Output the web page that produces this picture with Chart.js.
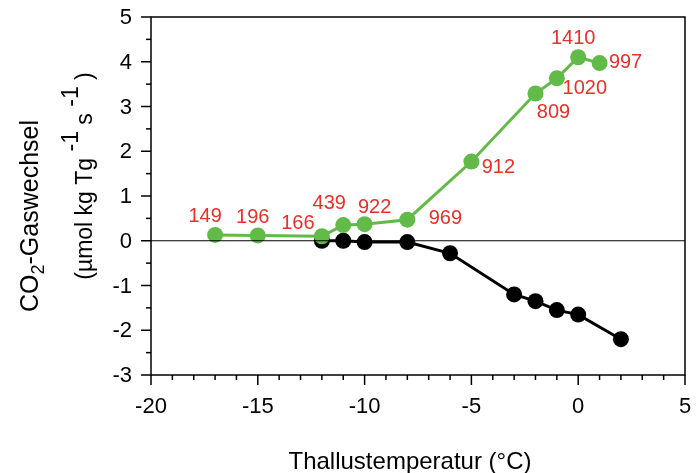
<!DOCTYPE html>
<html>
<head>
<meta charset="utf-8">
<style>
  html, body { margin: 0; padding: 0; background: #fff; }
  #wrap { width: 700px; height: 473px; }
</style>
<script src="https://cdn.jsdelivr.net/npm/chart.js@4/dist/chart.umd.min.js"></script>
</head>
<body>
<div id="wrap"><canvas id="grafica" width="700" height="473"></canvas></div>
<script>
// Daten
const tempGreen = [-17, -15, -12, -11, -10, -8, -5, -2, -1, 0, 1]
const gasGreen = [0.13, 0.12, 0.1, 0.35, 0.37, 0.47, 1.77, 3.29, 3.63, 4.1, 3.97]
const labelsGreen = ['149', '196', '166', '439', '922', '969', '912', '809', '1020', '1410', '997']

const tempBlack = [-12, -11, -10, -8, -6, -3, -2, -1, 0, 2]
const gasBlack = [0.0, 0.0, -0.03, -0.03, -0.28, -1.2, -1.35, -1.55, -1.65, -2.2]

const xTicks = [-20, -15, -10, -5, 0, 5]
const yTicks = [-3, -2, -1, 0, 1, 2, 3, 4, 5]

const green = 'rgb(98,186,72)'
const red = 'rgb(232,48,40)'
const font = '"Liberation Sans", Arial, sans-serif'

// Versatz der roten Beschriftungen (px) relativ zum Punkt
const labelOffsets = [
    [-10, -18], [-5, -18], [-24, -13], [-14, -22], [10, -17], [38, -1],
    [27, 6], [18, 19], [28, 10], [-5, -19], [26, -1]
]

const graph = document.querySelector('#grafica')

const extras = {
    id: 'extras',
    afterDatasetsDraw(chart) {
        const ctx = chart.ctx
        const xs = chart.scales.x
        const ys = chart.scales.y
        const a = chart.chartArea
        ctx.save()
        // Rahmen
        ctx.strokeStyle = '#000'
        ctx.lineWidth = 1.5
        ctx.strokeRect(a.left, a.top, a.right - a.left, a.bottom - a.top)
        // Nulllinie
        ctx.lineWidth = 1.2
        const y0 = ys.getPixelForValue(0)
        ctx.beginPath(); ctx.moveTo(a.left, y0); ctx.lineTo(a.right, y0); ctx.stroke()
        // Haupt- und Nebenstriche
        ctx.lineWidth = 1.5
        for (let v = -20; v <= 5; v++) {
            const px = xs.getPixelForValue(v)
            const len = v % 5 === 0 ? 10 : 5
            ctx.beginPath(); ctx.moveTo(px, a.bottom); ctx.lineTo(px, a.bottom + len); ctx.stroke()
        }
        for (let v = -3; v <= 5; v += 0.5) {
            const py = ys.getPixelForValue(v)
            const len = Number.isInteger(v) ? 10 : 5
            ctx.beginPath(); ctx.moveTo(a.left - len, py); ctx.lineTo(a.left, py); ctx.stroke()
        }
        // Achsenbeschriftung
        ctx.fillStyle = '#000'
        ctx.font = '22px ' + font
        ctx.textBaseline = 'middle'
        ctx.textAlign = 'center'
        xTicks.forEach(v => ctx.fillText(String(v), xs.getPixelForValue(v), a.bottom + 32))
        ctx.textAlign = 'right'
        yTicks.forEach(v => ctx.fillText(String(v), a.left - 19, ys.getPixelForValue(v) + 1))

        // rote Beschriftungen
        const meta = chart.getDatasetMeta(0)
        ctx.fillStyle = red
        ctx.font = '20px ' + font
        ctx.textAlign = 'center'
        ctx.textBaseline = 'middle'
        meta.data.forEach((pt, i) => {
            const o = labelOffsets[i]
            ctx.fillText(labelsGreen[i], pt.x + o[0], pt.y + o[1])
        })
        // Achsentitel
        ctx.fillStyle = '#000'
        ctx.font = '24px ' + font
        ctx.textAlign = 'center'
        ctx.textBaseline = 'alphabetic'
        ctx.fillText('Thallustemperatur (°C)', 410, 469)

        ctx.save()
        ctx.translate(38, 216)
        ctx.rotate(-Math.PI / 2)
        drawRich(ctx, [['CO', 0, 25], ['2', 6, 18], ['-Gaswechsel', 0, 25]], 0)
        ctx.restore()
        ctx.save()
        ctx.translate(92, 176)
        ctx.rotate(-Math.PI / 2)
        drawRich(ctx, [['(µmol kg Tg', 0, 23], [' -1', -14, 23], [' s', 0, 23], [' -1', -14, 23], [' )', 0, 23]], 0)
        ctx.restore()
        ctx.restore()
    }
}

function drawRich(ctx, parts, y) {
    let total = 0
    parts.forEach(p => { ctx.font = p[2] + 'px ' + font; total += ctx.measureText(p[0]).width })
    let x = -total / 2
    ctx.textAlign = 'left'
    parts.forEach(p => {
        ctx.font = p[2] + 'px ' + font
        ctx.fillText(p[0], x, y + p[1])
        x += ctx.measureText(p[0]).width
    })
}

const data = {
    datasets: [{
        data: tempGreen.map((t, i) => ({ x: t, y: gasGreen[i] })),
        borderColor: green,
        backgroundColor: green,
        borderWidth: 3,
        pointRadius: 8,
        pointBorderWidth: 0,
        showLine: true
    }, {
        data: tempBlack.map((t, i) => ({ x: t, y: gasBlack[i] })),
        borderColor: '#000',
        backgroundColor: '#000',
        borderWidth: 3,
        pointRadius: 8,
        pointBorderWidth: 0,
        showLine: true
    }]
}

const noPad = s => { s.paddingTop = 0; s.paddingBottom = 0; s.paddingLeft = 0; s.paddingRight = 0 }

const config = {
    type: 'scatter',
    data: data,
    options: {
        responsive: false,
        animation: false,
        clip: false,
        layout: { padding: { left: 0, right: 15, top: 17, bottom: 0 } },
        plugins: { legend: { display: false }, tooltip: { enabled: false } },
        scales: {
            x: {
                type: 'linear', min: -20, max: 5,
                afterBuildTicks: s => { s.ticks = xTicks.map(v => ({ value: v })) },
                afterFit: s => { s.height = 98; noPad(s) },
                grid: { display: false },
                border: { display: false },
                ticks: { display: false }
            },
            y: {
                type: 'linear', min: -3, max: 5,
                afterBuildTicks: s => { s.ticks = yTicks.map(v => ({ value: v })) },
                afterFit: s => { s.width = 151; noPad(s) },
                grid: { display: false },
                border: { display: false },
                ticks: { display: false }
            }
        }
    },
    plugins: [extras]
}

new Chart(graph, config)
</script>
</body>
</html>
